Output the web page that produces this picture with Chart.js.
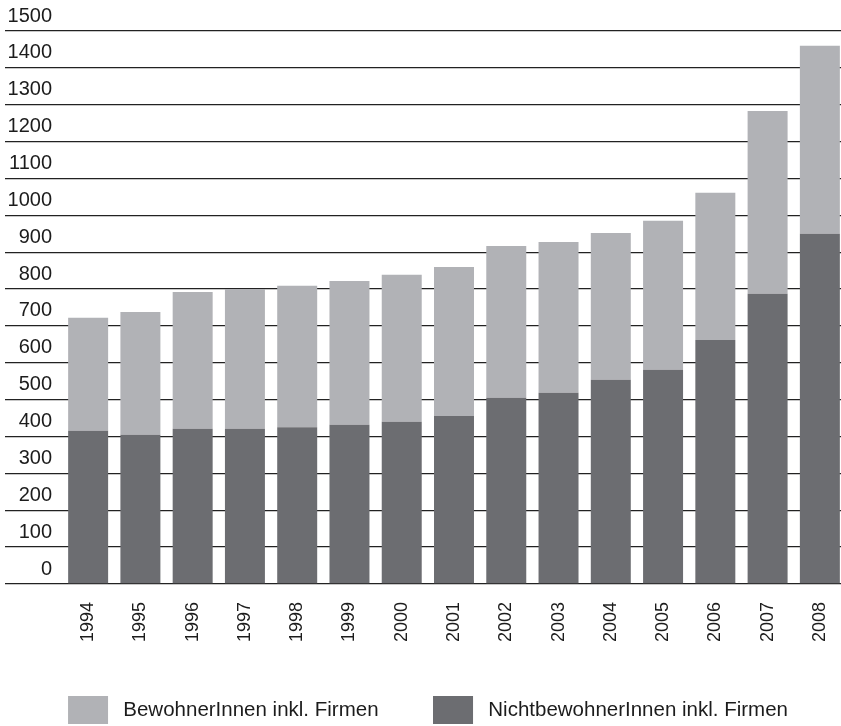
<!DOCTYPE html>
<html>
<head>
<meta charset="utf-8">
<script src="https://cdn.jsdelivr.net/npm/chart.js@4/dist/chart.umd.min.js"></script>
<style>
  html, body { margin: 0; padding: 0; background: #fff; overflow: hidden; }
  #wrap { width: 851px; height: 726px; }
</style>
</head>
<body>
<div id="wrap"><canvas id="c" width="851" height="726"></canvas></div>
<script>
const years = ["1994","1995","1996","1997","1998","1999","2000","2001","2002","2003","2004","2005","2006","2007","2008"];
const nichtbewohner = [416, 405, 421, 421, 425, 432, 440, 456, 505, 519, 554, 581, 662, 787, 950];
const bewohner = [306, 333, 371, 379, 384, 390, 399, 404, 412, 409, 398, 404, 399, 496, 510];
const yTicks = [0,100,200,300,400,500,600,700,800,900,1000,1100,1200,1300,1400,1500];
const labelBewohner = "BewohnerInnen inkl. Firmen";
const labelNicht = "NichtbewohnerInnen inkl. Firmen";

const FONT = '"Liberation Sans", Arial, Helvetica, sans-serif';
const LIGHT = '#b1b2b6';
const DARK = '#6c6d71';
const INK = '#1c1c1c';

new Chart(document.getElementById('c'), {
  type: 'bar',
  data: {
    labels: years,
    datasets: [
      { label: labelNicht, data: nichtbewohner, backgroundColor: DARK, borderWidth: 0 },
      { label: labelBewohner, data: bewohner, backgroundColor: LIGHT, borderWidth: 0 }
    ]
  },
  options: {
    responsive: false,
    animation: false,
    devicePixelRatio: 1,
    layout: { padding: { top: 31, left: 0, right: 0, bottom: 0 } },
    datasets: { bar: { categoryPercentage: 0.765, barPercentage: 1.0 } },
    scales: {
      x: {
        stacked: true,
        grid: { display: false, drawTicks: false },
        border: { display: false },
        ticks: {
          color: INK,
          font: { family: FONT, size: 18 },
          minRotation: 90,
          maxRotation: 90,
          padding: 18,
          autoSkip: false
        },
        afterFit: (s) => { s.height = 57.5; s.paddingLeft = 0; s.paddingRight = 5; }
      },
      y: {
        stacked: true,
        min: 0,
        max: 1500,
        z: 1,
        afterBuildTicks: (s) => { s.ticks = yTicks.map(v => ({ value: v })); },
        grid: {
          color: '#222',
          lineWidth: 1.3,
          drawTicks: true,
          tickLength: 57,
          tickColor: '#222'
        },
        border: { display: false },
        ticks: {
          color: INK,
          font: { family: FONT, size: 20 },
          padding: -47,
          labelOffset: -15,
          callback: (v) => String(v)
        },
        afterFit: (s) => { s.width = 62; }
      }
    },
    plugins: {
      tooltip: { enabled: false },
      legend: {
        position: 'bottom',
        align: 'center',
        reverse: true,
        maxHeight: 84.5,
        labels: {
          color: INK,
          font: { family: FONT, size: 20.5 },
          boxWidth: 50,
          boxHeight: 38,
          padding: 49.5,
          generateLabels: (chart) => {
            const items = Chart.defaults.plugins.legend.labels.generateLabels(chart);
            return items.map(it => Object.assign(it, { lineWidth: 10, strokeStyle: '#ffffff' }));
          }
        }
      }
    }
  }
});
</script>
</body>
</html>
